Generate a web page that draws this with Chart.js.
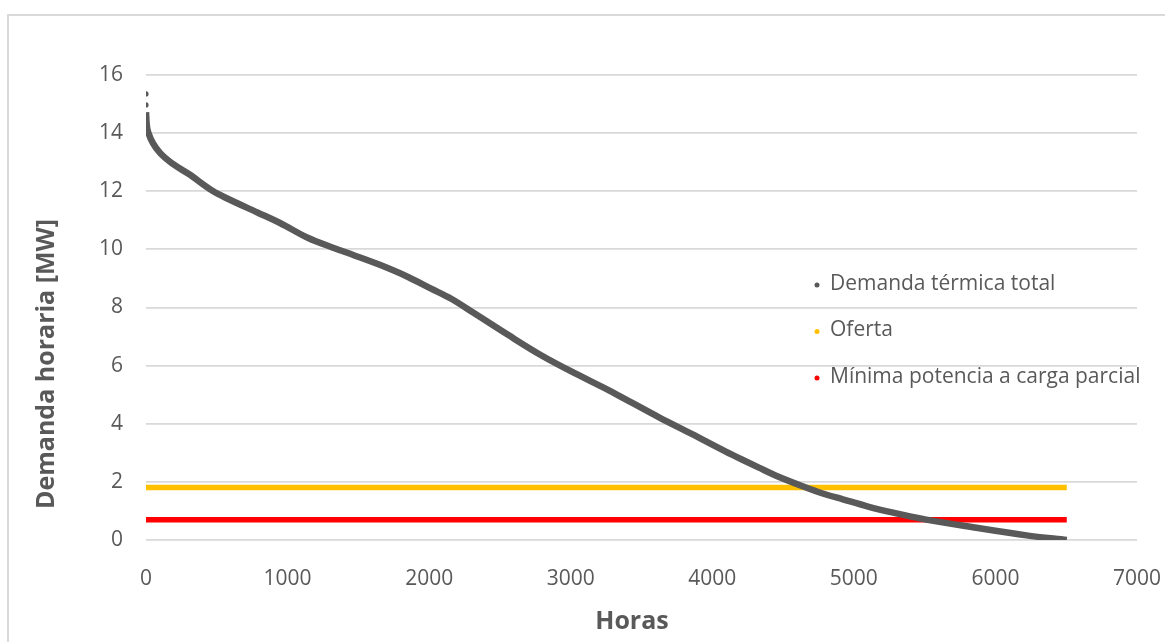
<!DOCTYPE html>
<html>
<head>
<meta charset="utf-8">
<script src="https://cdn.jsdelivr.net/npm/chart.js@4/dist/chart.umd.min.js"></script>
<style>
    html, body { margin: 0; padding: 0; background: #fff; overflow: hidden; }
    #marco {
        position: absolute; left: 7px; top: 14px;
        width: 1170px; height: 640px;
        border: 2px solid #d9d9d9;
    }
    #contenedor { position: absolute; left: 0; top: 0; width: 1165px; height: 642px; }
</style>
</head>
<body>
<div id="marco"></div>
<div id="contenedor"><canvas id="grafico"></canvas></div>
<script>
// Datos
const horasPico = [0, 0];
const demandaPico = [15.35, 14.97];

const horas = [0, 5, 20, 50, 99, 190, 300, 475, 574, 787, 950, 1142, 1326, 1468, 1660, 1851,
    2014, 2156, 2319, 2560, 2794, 3028, 3270, 3411, 3624, 3858, 4092, 4213, 4333, 4447, 4638, 4780,
    4922, 5100, 5277, 5511, 5865, 6220, 6504];
const demanda = [14.72, 14.3, 13.97, 13.65, 13.32, 12.94, 12.6, 12.0, 11.75, 11.27, 10.9,
    10.4, 10.05, 9.8, 9.45, 9.05, 8.65, 8.3, 7.8, 7.05, 6.35, 5.74, 5.15, 4.78, 4.22, 3.64, 3.05, 2.76,
    2.48, 2.22, 1.85, 1.6, 1.4, 1.15, 0.94, 0.7, 0.42, 0.16, 0.0];

const horasOferta = [0, 6504];
const oferta = [1.81, 1.81];
const minimaPotencia = [0.70, 0.70];

const etiquetasLeyenda = ['Demanda térmica total', 'Oferta', 'Mínima potencia a carga parcial'];
const coloresLeyenda = ['#595959', '#ffc000', '#ff0000'];

const fuente = "'Open Sans', sans-serif";
const gris = '#595959';

function puntos(xs, ys) {
    return xs.map((x, i) => ({ x: x, y: ys[i] }));
}

// Leyenda y titulos de los ejes dibujados a mano
const extras = {
    id: 'extras',
    afterDraw(chart) {
        const c = chart.ctx;
        c.save();
        c.font = '21px ' + fuente;
        c.textBaseline = 'middle';
        etiquetasLeyenda.forEach((txt, i) => {
            const y = 284 + i * 46.5;
            c.fillStyle = coloresLeyenda[i];
            c.beginPath();
            c.arc(817, y + 1, 2.5, 0, Math.PI * 2);
            c.fill();
            c.fillStyle = gris;
            c.fillText(txt, 830, y);
        });
        c.font = 'bold 25px ' + fuente;
        c.textAlign = 'center';
        c.fillText('Horas', 632, 622);
        c.translate(47, 364);
        c.rotate(-Math.PI / 2);
        c.fillText('Demanda horaria [MW]', 0, 0);
        c.restore();
    }
};

let ctx = document.getElementById('grafico').getContext('2d');
let grafico = new Chart(ctx, {
    type: 'scatter',
    data: {
        datasets: [{
            label: 'Demanda térmica total',
            data: puntos(horas, demanda),
            showLine: true,
            cubicInterpolationMode: 'monotone',
            borderColor: gris,
            borderWidth: 6.5,
            borderCapStyle: 'butt',
            pointRadius: 0
        }, {
            label: 'Demanda pico',
            data: puntos(horasPico, demandaPico),
            backgroundColor: gris,
            borderWidth: 0,
            pointRadius: 2.6
        }, {
            label: 'Oferta',
            data: puntos(horasOferta, oferta),
            showLine: true,
            borderColor: '#ffc000',
            borderWidth: 5.5,
            borderCapStyle: 'butt',
            pointRadius: 0
        }, {
            label: 'Mínima potencia a carga parcial',
            data: puntos(horasOferta, minimaPotencia),
            showLine: true,
            borderColor: '#ff0000',
            borderWidth: 5.5,
            borderCapStyle: 'butt',
            pointRadius: 0
        }]
    },
    options: {
        responsive: true,
        maintainAspectRatio: false,
        animation: false,
        layout: {
            padding: { left: 0, top: 75, right: 28, bottom: 0 }
        },
        plugins: {
            legend: { display: false },
            tooltip: { enabled: false }
        },
        scales: {
            x: {
                type: 'linear',
                min: 0,
                max: 7000,
                afterFit: (s) => {
                    s.height = 102;
                    s.paddingLeft = 0;
                    s.paddingRight = 0;
                },
                border: { display: false },
                grid: { display: false },
                ticks: {
                    stepSize: 1000,
                    padding: 18,
                    color: gris,
                    font: { family: fuente, size: 21 },
                    maxRotation: 0,
                    callback: (v) => String(v)
                }
            },
            y: {
                min: 0,
                max: 16,
                afterFit: (s) => { s.width = 146; },
                border: { display: false },
                grid: { color: '#d9d9d9', lineWidth: 1.8, drawTicks: false },
                ticks: {
                    stepSize: 2,
                    padding: 23,
                    color: gris,
                    font: { family: fuente, size: 21 }
                }
            }
        }
    },
    plugins: [extras]
});
</script>
</body>
</html>
